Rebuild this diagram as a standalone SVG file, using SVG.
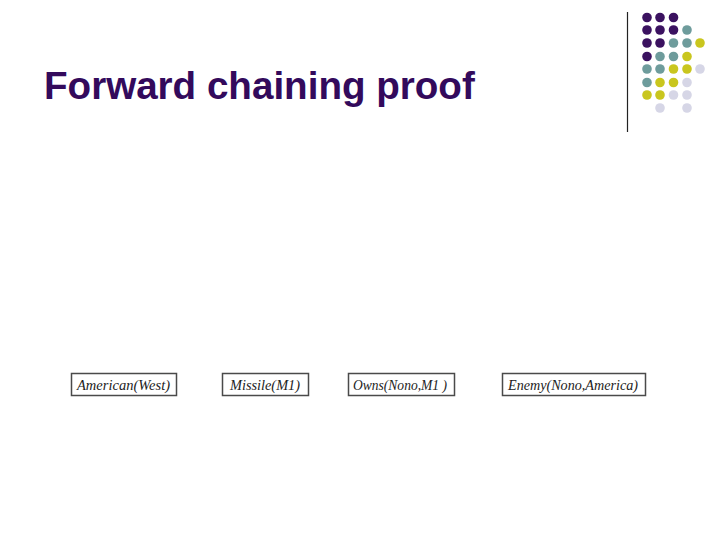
<svg xmlns="http://www.w3.org/2000/svg" width="720" height="540" viewBox="0 0 720 540">
<style>
.title{font-family:"Liberation Sans",Arial,sans-serif;font-weight:bold;font-size:38.6px;fill:#330a5c}
.box{fill:#fff;stroke:#4a4a4a;stroke-width:1.5}
.lbl{font-family:"Liberation Serif","Times New Roman",serif;font-style:italic;font-size:14.5px;fill:#222}
.p{fill:#3b1260}.t{fill:#6e9c9c}.y{fill:#c9c61e}.l{fill:#d6d6e6}
</style>
<rect width="720" height="540" fill="#fff"/>
<g id="decor">
<line x1="627.5" y1="12" x2="627.5" y2="132" stroke="#222" stroke-width="1.2"/>
<circle class="p" cx="647" cy="17.5" r="4.8"/><circle class="p" cx="660" cy="17.5" r="4.8"/><circle class="p" cx="673.5" cy="17.5" r="4.8"/>
<circle class="p" cx="647" cy="30" r="4.8"/><circle class="p" cx="660" cy="30" r="4.8"/><circle class="p" cx="673.5" cy="30" r="4.8"/><circle class="t" cx="687" cy="30" r="4.8"/>
<circle class="p" cx="647" cy="43" r="4.8"/><circle class="p" cx="660" cy="43" r="4.8"/><circle class="t" cx="673.5" cy="43" r="4.8"/><circle class="t" cx="687" cy="43" r="4.8"/><circle class="y" cx="700" cy="43" r="4.8"/>
<circle class="p" cx="647" cy="56.5" r="4.8"/><circle class="t" cx="660" cy="56.5" r="4.8"/><circle class="t" cx="673.5" cy="56.5" r="4.8"/><circle class="y" cx="687" cy="56.5" r="4.8"/>
<circle class="t" cx="647" cy="69" r="4.8"/><circle class="t" cx="660" cy="69" r="4.8"/><circle class="y" cx="673.5" cy="69" r="4.8"/><circle class="y" cx="687" cy="69" r="4.8"/><circle class="l" cx="700" cy="69" r="4.8"/>
<circle class="t" cx="647" cy="82.5" r="4.8"/><circle class="y" cx="660" cy="82.5" r="4.8"/><circle class="y" cx="673.5" cy="82.5" r="4.8"/><circle class="l" cx="687" cy="82.5" r="4.8"/>
<circle class="y" cx="647" cy="95" r="4.8"/><circle class="y" cx="660" cy="95" r="4.8"/><circle class="l" cx="673.5" cy="95" r="4.8"/><circle class="l" cx="687" cy="95" r="4.8"/>
<circle class="l" cx="660" cy="108" r="4.8"/><circle class="l" cx="687" cy="108" r="4.8"/>
</g>
<text class="title" x="44" y="99">Forward chaining proof</text>
<g id="connectors"></g>
<g id="n1"><rect class="box" x="71.5" y="373.5" width="105" height="22"/><text class="lbl" x="77" y="389.5" textLength="93" lengthAdjust="spacingAndGlyphs">American(West)</text></g>
<g id="n2"><rect class="box" x="222.5" y="373.5" width="86" height="22"/><text class="lbl" x="230" y="389.5" textLength="70" lengthAdjust="spacingAndGlyphs">Missile(M1)</text></g>
<g id="n3"><rect class="box" x="348.5" y="373.5" width="106" height="22"/><text class="lbl" x="353" y="389.5" textLength="94" lengthAdjust="spacingAndGlyphs">Owns(Nono,M1 )</text></g>
<g id="n4"><rect class="box" x="502.5" y="373.5" width="143" height="22"/><text class="lbl" x="508" y="389.5" textLength="130" lengthAdjust="spacingAndGlyphs">Enemy(Nono,America)</text></g>
</svg>
